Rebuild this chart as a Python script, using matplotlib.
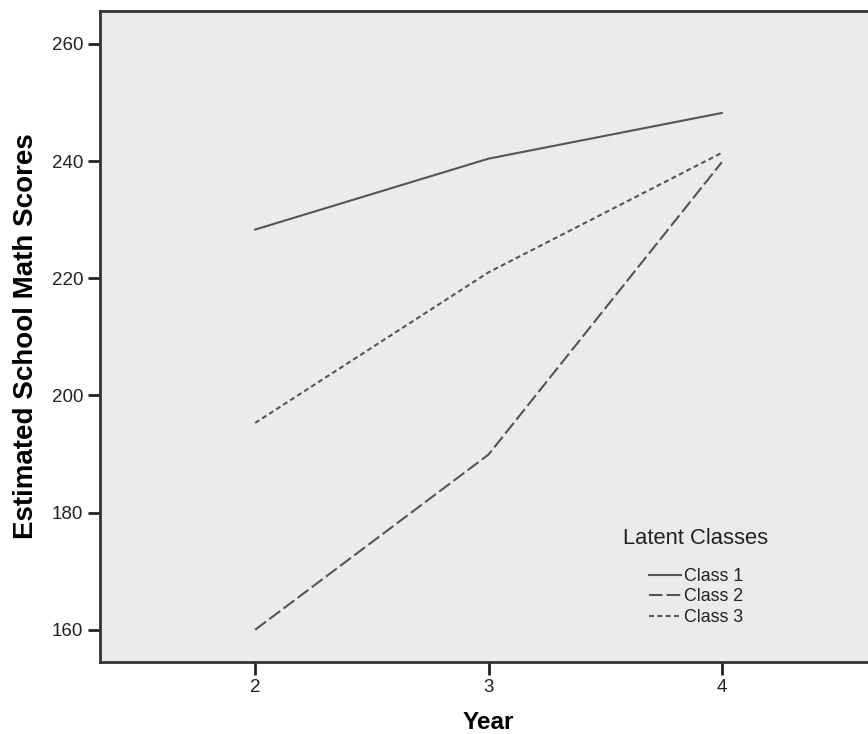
import matplotlib.pyplot as plt

# estimated values
years = [2, 3, 4]
class1 = [228.3, 240.4, 248.2]
class2 = [160.0, 189.9, 239.8]
class3 = [195.3, 221.0, 241.4]
labels = ["Class 1", "Class 2", "Class 3"]
yticks = [160, 180, 200, 220, 240, 260]

plt.rcParams['font.family'] = ['Liberation Sans', 'DejaVu Sans']

fig = plt.figure(figsize=(8.68, 7.34), dpi=100)
fig.patch.set_facecolor('white')
ax = fig.add_axes([100 / 868, 72 / 734, 777 / 868, 651 / 734])
ax.set_facecolor('#ebebeb')

line_col = '#555555'
ax.plot(years, class1, color=line_col, lw=1.5, ls='-', label=labels[0])
ax.plot(years, class2, color=line_col, lw=1.5, dashes=(6.5, 2.0), label=labels[1])
ax.plot(years, class3, color=line_col, lw=1.5, dashes=(2.4, 1.6), label=labels[2])

ax.set_xlim(1.335, 4.665)
ax.set_ylim(154.5, 265.6)
ax.set_xticks(years)
ax.set_yticks(yticks)
ax.tick_params(direction='out', length=9, width=2, color='#222222',
               labelsize=13.5, labelcolor='#222222', pad=3)

for s in ['top', 'left', 'bottom', 'right']:
    ax.spines[s].set_linewidth(2)
    ax.spines[s].set_color('#333333')

ax.set_xlabel("Year", fontsize=17.5, fontweight='bold', labelpad=11)
ax.set_ylabel("Estimated School Math Scores", fontsize=20, fontweight='bold', labelpad=9)

fig.text(623 / 868, 1 - 538 / 734, "Latent Classes", fontsize=15.8, color='#222222',
         va='center', ha='left')
ax.legend(loc='upper left', bbox_to_anchor=(640 / 868, 1 - 559 / 734),
          bbox_transform=fig.transFigure, frameon=False, fontsize=12.8,
          handlelength=1.8, handletextpad=0.2, labelspacing=0.2,
          borderpad=0, labelcolor='#222222')

fig.savefig("out.png", dpi=100)
